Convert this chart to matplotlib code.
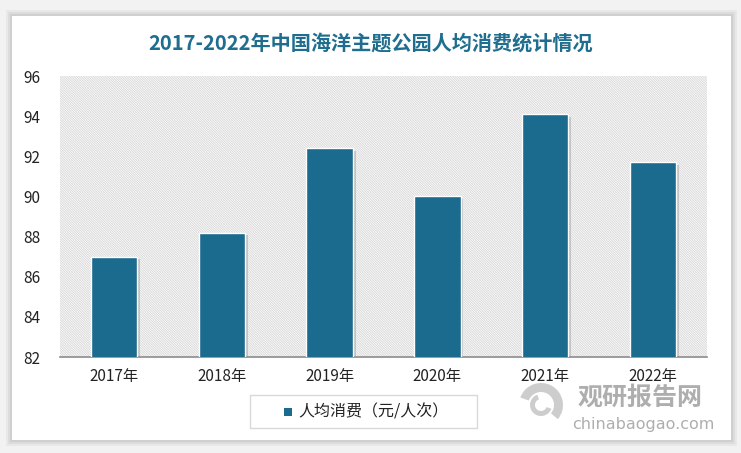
import matplotlib
matplotlib.use("Agg")
import matplotlib.pyplot as plt
from matplotlib.patches import Rectangle, Wedge
import matplotlib.patheffects as pe

plt.rcParams['font.family'] = ['Noto Sans CJK SC', 'DejaVu Sans']
plt.rcParams['hatch.color'] = '#d9d9d9'
plt.rcParams['hatch.linewidth'] = 0.7

years = ['2017年', '2018年', '2019年', '2020年', '2021年', '2022年']
values = [87.0, 88.2, 92.4, 90.0, 94.1, 91.7]
yticks = [82, 84, 86, 88, 90, 92, 94, 96]
title = '2017-2022年中国海洋主题公园人均消费统计情况'
legend_label = '人均消费（元/人次）'

W, H = 741, 453
fig = plt.figure(figsize=(W / 100, H / 100), dpi=100)
fig.patch.set_facecolor('#f2f2f2')

# card with shadow
for i, a in enumerate([0.04, 0.05, 0.06]):
    d = 6 - i * 2
    fig.patches.append(Rectangle(((12 - d) / W, (H - 440 - d) / H), (719 + 2 * d) / W, (424 + 2 * d) / H,
                                 transform=fig.transFigure, facecolor='black', alpha=a, edgecolor='none', zorder=0))
fig.patches.append(Rectangle((12 / W, (H - 440) / H), 719 / W, 424 / H,
                             transform=fig.transFigure, facecolor='white', edgecolor='none', zorder=1))

x0, x1 = 60, 707
yt, yb = 76, 357
ax = fig.add_axes([x0 / W, (H - yb) / H, (x1 - x0) / W, (yb - yt) / H])
ax.set_zorder(2)
ax.patch.set_facecolor('white')
ax.add_patch(Rectangle((0, 0), 1, 1, transform=ax.transAxes, facecolor='white',
                       hatch='\\' * 14, edgecolor='#d9d9d9', linewidth=0, zorder=0))

xs = range(len(years))
bars = ax.bar(xs, values, width=0.43, color='#1b6b8e', edgecolor='white', linewidth=1.0, zorder=3,
              path_effects=[pe.SimplePatchShadow(offset=(2, -2), shadow_rgbFace='#808080', alpha=0.35), pe.Normal()])

ax.set_xlim(-0.5, len(years) - 0.5)
ax.set_ylim(82, 96)
ax.set_yticks(yticks)
ax.set_yticklabels([str(t) for t in yticks], fontsize=11, color='#222222')
ax.set_xticks(list(xs))
ax.set_xticklabels(years, fontsize=11, color='#222222')
ax.tick_params(axis='both', length=0, pad=8)
ax.tick_params(axis='y', pad=14)
for s in ['top', 'right', 'left']:
    ax.spines[s].set_visible(False)
ax.spines['bottom'].set_color('#8c8c8c')
ax.spines['bottom'].set_linewidth(1.2)

fig.text(371 / W, (H - 43) / H, title, ha='center', va='center', fontsize=14.5, fontweight='bold', color='#1f6e8f')

# legend box
fig.patches.append(Rectangle((250 / W, (H - 428) / H), 227 / W, 33 / H, transform=fig.transFigure,
                             facecolor='white', edgecolor='#d9d9d9', linewidth=1, zorder=3))
fig.patches.append(Rectangle((284 / W, (H - 416) / H), 8 / W, 8 / H, transform=fig.transFigure,
                             facecolor='#1b6b8e', edgecolor='none', zorder=4))
fig.text(298 / W, (H - 412) / H, legend_label, ha='left', va='center', fontsize=11.5, color='#222222', zorder=5)

# watermark
wax = fig.add_axes([0, 0, 1, 1], zorder=6)
wax.set_xlim(0, W)
wax.set_ylim(H, 0)
wax.axis('off')
wax.add_patch(Wedge((541, 405), 22, 200, 40, width=9, facecolor='#b8b8b8', alpha=0.7, edgecolor='none'))
wax.add_patch(Wedge((541, 405), 11, 20, 250, width=5, facecolor='#b8b8b8', alpha=0.7, edgecolor='none'))
wax.text(578, 398, '观研报告网', ha='left', va='center', fontsize=18, fontweight='bold',
         color='#9a9a9a', alpha=0.8)
wax.text(572, 424, 'chinabaogao.com', ha='left', va='center', fontsize=11.5,
         color='#9a9a9a', alpha=0.8, family='DejaVu Sans')

fig.savefig('out.png', dpi=100)
